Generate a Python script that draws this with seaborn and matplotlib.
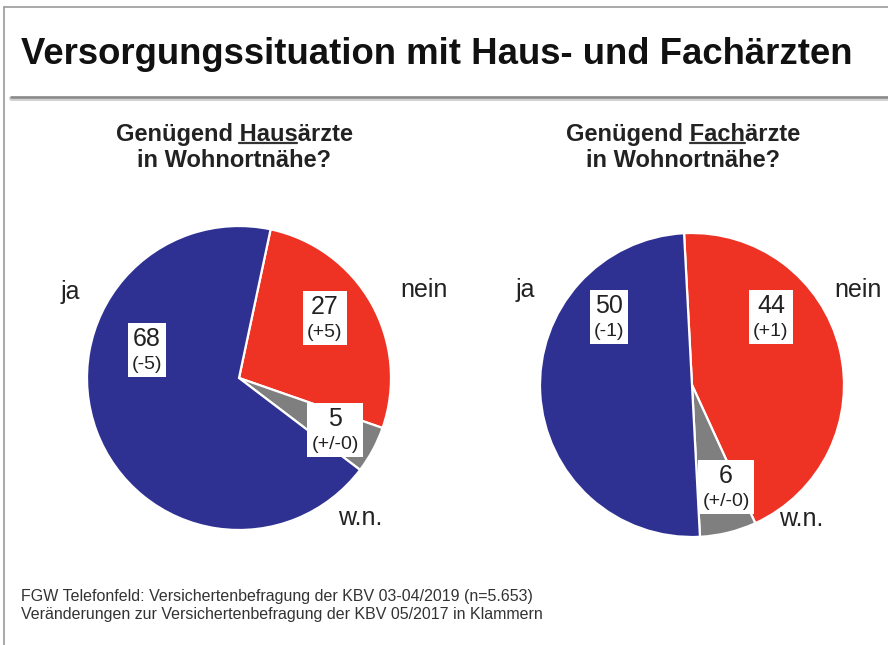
import matplotlib
matplotlib.use("Agg")
import matplotlib.pyplot as plt
import seaborn as sns
from matplotlib.offsetbox import TextArea, VPacker, AnnotationBbox
from matplotlib.lines import Line2D

sns.set_theme(style="white")
plt.rcParams['font.family'] = ['Liberation Sans', 'DejaVu Sans']

# ---------------- data ----------------
title = "Versorgungssituation mit Haus- und Fachärzten"
categories = ["nein", "w.n.", "ja"]
haus_values = [27, 5, 68]
haus_changes = ["(+5)", "(+/-0)", "(-5)"]
fach_values = [44, 6, 50]
fach_changes = ["(+1)", "(+/-0)", "(-1)"]
subtitle_haus = ("Genügend ", "Haus", "ärzte", "in Wohnortnähe?")
subtitle_fach = ("Genügend ", "Fach", "ärzte", "in Wohnortnähe?")
footnotes = ["FGW Telefonfeld: Versichertenbefragung der KBV 03-04/2019 (n=5.653)",
             "Veränderungen zur Versichertenbefragung der KBV 05/2017 in Klammern"]
palette = sns.color_palette(["#EE3224", "#7F7F7F", "#2E3192"])

# ---------------- layout ----------------
W, H = 888, 645
fig = plt.figure(figsize=(W / 100, H / 100), dpi=100)
fig.patch.set_facecolor("white")


def fx(x):
    return x / W


def fy(y):
    return 1 - y / H


# frame and separator
fig.add_artist(Line2D([fx(4), 1], [fy(7), fy(7)], color="#9a9a9a", lw=1.2, transform=fig.transFigure))
fig.add_artist(Line2D([fx(4), fx(4)], [fy(7), 0], color="#9a9a9a", lw=1.2, transform=fig.transFigure))
fig.add_artist(Line2D([fx(11), 1], [fy(98), fy(98)], color="#d0d0d0", lw=3.5, transform=fig.transFigure))
fig.add_artist(Line2D([fx(11), 1], [fy(97), fy(97)], color="#8a8a8a", lw=1.8, transform=fig.transFigure))

fig.text(fx(21), fy(64), title, fontsize=26.3, fontweight="bold", color="#111111",
         ha="left", va="baseline")

for i, line in enumerate(footnotes):
    fig.text(fx(21), fy(596 + 18 * i), line, fontsize=11.5, color="#333333",
             ha="left", va="center")

renderer = fig.canvas.get_renderer()


def subtitle(parts, cx, y1, y2):
    pre, und, post, line2 = parts
    full = pre + und + post
    t = fig.text(fx(cx), fy(y1), full, fontsize=17, fontweight="bold", color="#222222",
                 ha="center", va="center")
    fig.text(fx(cx), fy(y2), line2, fontsize=17, fontweight="bold", color="#222222",
             ha="center", va="center")
    bb = t.get_window_extent(renderer)

    def width(s):
        tmp = fig.text(0, 0, s, fontsize=17, fontweight="bold")
        w = tmp.get_window_extent(renderer).width
        tmp.remove()
        return w
    w_pu = width(pre + und)
    w_u = width(und)
    x1 = bb.x0 + w_pu
    x0 = x1 - w_u
    yl = H - (y1 + 9)
    fig.add_artist(Line2D([x0 / W, x1 / W], [yl / H, yl / H], color="#333333", lw=1.6,
                          transform=fig.transFigure))


subtitle(subtitle_haus, 234, 134, 161)
subtitle(subtitle_fach, 683, 134, 161)


def draw_pie(values, changes, cx, cy, R, start, cat_pos, box_pos):
    ax = fig.add_axes([fx(cx - R), fy(cy + R), 2 * R / W, 2 * R / H])
    ax.pie(values, colors=palette, startangle=start, counterclock=False,
           wedgeprops=dict(edgecolor="white", linewidth=1.6))
    ax.set_xlim(-1, 1)
    ax.set_ylim(-1, 1)
    ax.set_axis_off()
    for cat, (px, py) in zip(categories, cat_pos):
        fig.text(fx(px), fy(py), cat, fontsize=18, color="#222222", ha="center", va="center")
    for val, ch, (px, py) in zip(values, changes, box_pos):
        top = TextArea(str(val), textprops=dict(fontsize=18, color="#222222"))
        bot = TextArea(ch, textprops=dict(fontsize=14, color="#222222"))
        pack = VPacker(children=[top, bot], align="center", pad=0, sep=3)
        ab = AnnotationBbox(pack, (px, H - py), xycoords="figure pixels", frameon=True,
                            pad=0.3, fontsize=10,
                            bboxprops=dict(facecolor="white", edgecolor="none",
                                           boxstyle="square,pad=0.3"))
        fig.add_artist(ab)


draw_pie(haus_values, haus_changes, 239, 378, 152, 78,
         cat_pos=[(424, 290), (360, 518), (70, 292)],
         box_pos=[(325, 318), (335, 430), (147, 350)])
draw_pie(fach_values, fach_changes, 692, 385, 152, 93,
         cat_pos=[(858, 290), (801, 519), (525, 290)],
         box_pos=[(771, 317), (726, 487), (609, 317)])

fig.savefig("out.png", dpi=100, facecolor="white")
